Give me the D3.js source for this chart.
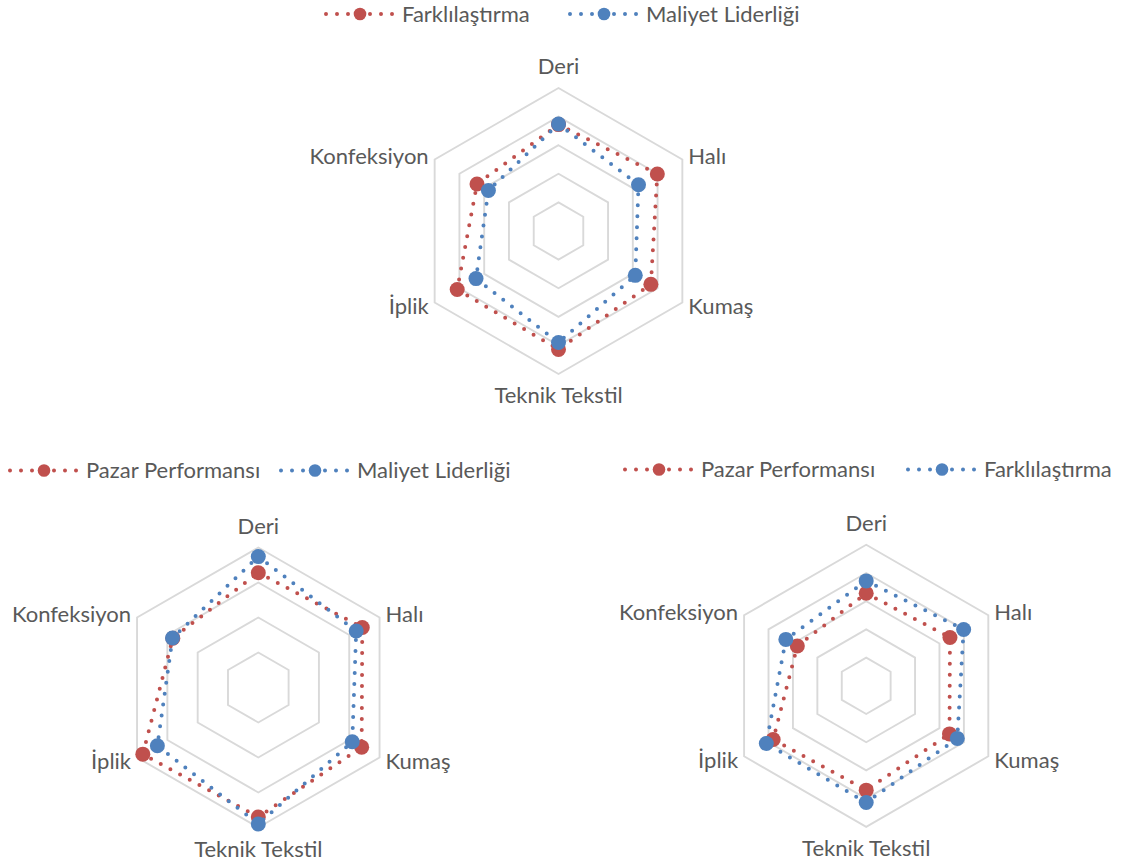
<!DOCTYPE html>
<html><head><meta charset="utf-8">
<script src="https://cdn.jsdelivr.net/npm/d3@7"></script>
<style>body{margin:0;background:#fff} svg{display:block}</style>
</head><body>
<svg id="c" width="1123" height="866"></svg>
<script>
// ---- data ----
const categories = ["Deri", "Halı", "Kumaş", "Teknik Tekstil", "İplik", "Konfeksiyon"];
const farklilastirma   = [3.72, 3.99, 3.73, 4.14, 4.09, 3.29];
const maliyetLiderligi = [3.74, 3.23, 3.10, 3.90, 3.33, 2.83];
const pazarPerformansi = [3.28, 3.43, 3.41, 3.70, 3.81, 2.82];
const ticks5 = [1, 2, 3, 4, 5];
const ticks4 = [1, 2, 3, 4];
const seriesNames = ["Farklılaştırma", "Maliyet Liderliği", "Pazar Performansı"];

const RED = "#C0504D", BLUE = "#4F81BD", GRID = "#D9D9D9", TXT = "#595959";
const FONT = "Lato, 'Open Sans', sans-serif";

const charts = [
  { cx: 558.5, cy: 231, r: 143, ticks: ticks5, legendY: 14, legendX: [326, 570],
    series: [{ name: seriesNames[0], values: farklilastirma, color: RED },
             { name: seriesNames[1], values: maliyetLiderligi, color: BLUE }] },
  { cx: 258.3, cy: 687.5, r: 140, ticks: ticks4, legendY: 470.5, legendX: [10, 281],
    series: [{ name: seriesNames[2], values: pazarPerformansi, color: RED },
             { name: seriesNames[1], values: maliyetLiderligi, color: BLUE }] },
  { cx: 866.2, cy: 685.8, r: 141, ticks: ticks5, legendY: 469.5, legendX: [625, 908],
    series: [{ name: seriesNames[2], values: pazarPerformansi, color: RED },
             { name: seriesNames[0], values: farklilastirma, color: BLUE }] }
];

const svg = d3.select("#c");

// font size fitted to reference text widths
const probe = svg.append("text").attr("font-family", FONT).attr("font-size", 20);
const targets = [["Teknik Tekstil", 130.6], ["Konfeksiyon", 118], ["Farklılaştırma", 130],
                 ["Maliyet Liderliği", 153], ["Pazar Performansı", 172]];
let sumW = 0, sumT = 0;
targets.forEach(([t, w]) => { probe.text(t); sumW += probe.node().getComputedTextLength(); sumT += w; });
probe.remove();
const FS = 20 * sumT / sumW;

const angle = d3.scalePoint().domain(categories).range([0, 2 * Math.PI * 5 / 6]);

charts.forEach(ch => {
  const maxV = d3.max(ch.ticks);
  const rs = d3.scaleLinear().domain([0, maxV]).range([0, ch.r]);
  const g = svg.append("g").attr("transform", `translate(${ch.cx},${ch.cy})`);
  const pt = (c, v) => { const a = angle(c); return [rs(v) * Math.sin(a), -rs(v) * Math.cos(a)]; };
  const line = d3.line().curve(d3.curveLinearClosed);

  // grid rings
  g.selectAll("path.ring").data(ch.ticks).join("path")
    .attr("class", "ring")
    .attr("d", t => line(categories.map(c => pt(c, t))))
    .attr("fill", "none").attr("stroke", GRID).attr("stroke-width", 1.9);

  // category labels
  categories.forEach(c => {
    const a = angle(c);
    const sx = Math.sin(a), cyv = -Math.cos(a);
    let x, y, anchor;
    if (Math.abs(sx) < 0.01) {
      x = 0; y = cyv * (ch.r + 21.5); anchor = "middle";
    } else {
      x = sx * ch.r + (sx > 0 ? 6 : -6);
      y = cyv * ch.r + (cyv > 0 ? 3.5 : -3.5);
      anchor = sx > 0 ? "start" : "end";
    }
    g.append("text").attr("x", x).attr("y", y).attr("dy", "0.36em")
      .attr("text-anchor", anchor).attr("font-family", FONT).attr("font-size", FS)
      .attr("fill", TXT).text(c);
  });

  // series
  ch.series.forEach(s => {
    const pts = categories.map((c, i) => pt(c, s.values[i]));
    g.append("path").attr("d", line(pts)).attr("fill", "none")
      .attr("stroke", s.color).attr("stroke-width", 4)
      .attr("stroke-linecap", "round").attr("stroke-dasharray", "0 11");
    g.selectAll(null).data(pts).join("circle")
      .attr("cx", d => d[0]).attr("cy", d => d[1]).attr("r", 7.5).attr("fill", s.color);
  });

  // legend
  const lg = svg.append("g");
  const LINE = 71, GAP = 5;
  ch.series.forEach((s, i) => {
    const x0 = ch.legendX[i];
    lg.append("line").attr("x1", x0).attr("x2", x0 + LINE).attr("y1", ch.legendY).attr("y2", ch.legendY)
      .attr("stroke", s.color).attr("stroke-width", 4).attr("stroke-linecap", "round")
      .attr("stroke-dasharray", "0 11");
    lg.append("circle").attr("cx", x0 + 34).attr("cy", ch.legendY).attr("r", 6.3).attr("fill", s.color);
    lg.append("text").attr("font-family", FONT).attr("font-size", FS)
      .attr("fill", TXT).attr("dy", "0.36em").attr("x", x0 + LINE + GAP).attr("y", ch.legendY)
      .text(s.name);
  });
});
</script>
</body></html>
